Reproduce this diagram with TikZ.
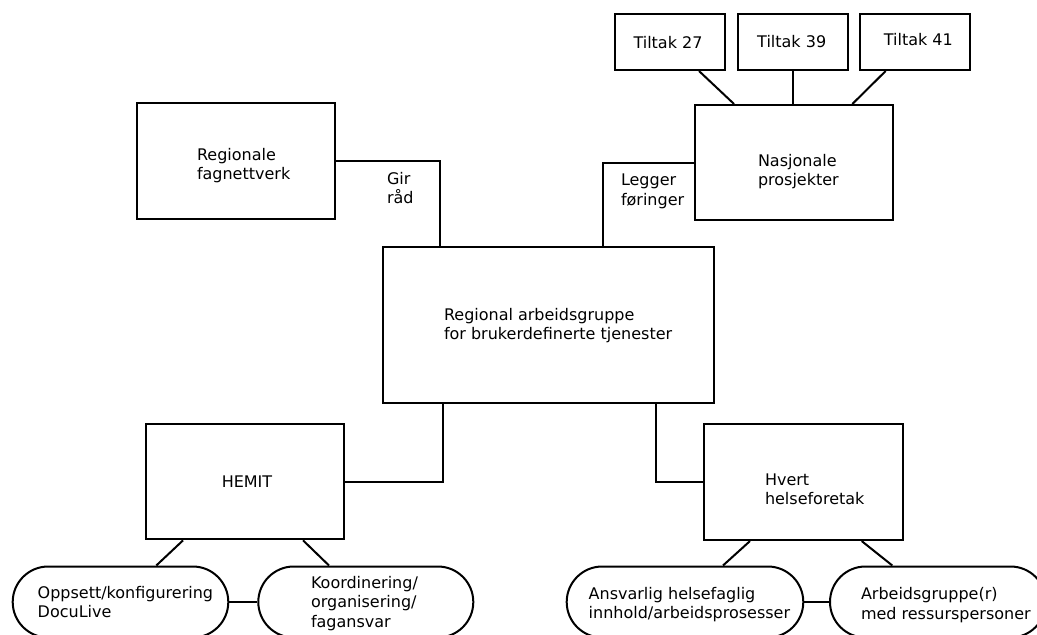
\documentclass[tikz,border=0pt]{standalone}
\usepackage{fontspec}
\setmainfont{DejaVu Sans}
\usetikzlibrary{calc}
\begin{document}
\begin{tikzpicture}[x=1pt,y=-1pt,
  line width=2pt, line join=miter,
  box/.style={draw, rectangle, inner sep=0pt},
  pill/.style={draw, rectangle, rounded corners=35.5pt, minimum height=71pt, inner sep=0pt},
  % multi-line labels: the base anchor sits on the last line
  lbl/.style={inner sep=0pt, anchor=base west, align=left, font=\fontsize{16}{19.5}\selectfont},
  clbl/.style={lbl, anchor=base},
]
\clip (0,0) rectangle (1037,635);
\fill[white] (0,0) rectangle (1037,635);

% --- boxes ---
\node[box, minimum width=110pt, minimum height=56pt] (t27) at (670,42) {};
\node[box, minimum width=110pt, minimum height=56pt] (t39) at (793,42) {};
\node[box, minimum width=110pt, minimum height=56pt] (t41) at (915,42) {};
\node[box, minimum width=198.3pt, minimum height=115pt] (nasj) at (794.2,162.5) {};
\node[box, minimum width=197.7pt, minimum height=115.7pt] (regfag) at (236.2,161.2) {};
\node[box, minimum width=331.6pt, minimum height=156pt] (rag) at (548.5,324.7) {};
\node[box, minimum width=198.3pt, minimum height=115.3pt] (hemit) at (245.2,481.7) {};
\node[box, minimum width=198.4pt, minimum height=115.7pt] (hf) at (803.5,482.2) {};

% --- rounded end nodes ---
\node[pill, minimum width=215.6pt] (opps) at (120.5,602) {};
\node[pill, minimum width=215pt] (koord) at (365.8,602) {};
\node[pill, minimum width=236.6pt] (ansv) at (685,602) {};
\node[pill, minimum width=216pt] (agr) at (938,602) {};

% --- texts ---
\node[clbl] (t27-t) at (668,48.5) {Tiltak 27};
\node[clbl] (t39-t) at (791.7,47.5) {Tiltak 39};
\node[clbl] (t41-t) at (918.3,45.5) {Tiltak 41};
\node[lbl] (nasj-t) at (757,185.5) {Nasjonale\\prosjekter};
\node[lbl] (regfag-t) at (196,179.5) {Regionale\\fagnettverk};
\node[lbl] (gir-t) at (386,203.5) {Gir\\råd};
\node[lbl] (legger-t) at (620,205) {Legger\\føringer};
\node[lbl] (rag-t) at (443,339.5) {Regional arbeidsgruppe\\for brukerdefinerte tjenester};
\node[clbl] (hemit-t) at (247,487) {HEMIT};
\node[lbl] (hf-t) at (764,504.5) {Hvert\\helseforetak};
\node[lbl] (opps-t) at (36.7,617.5) {Oppsett/konfigurering\\DocuLive};
\node[lbl] (koord-t) at (310,627.3) {Koordinering/\\organisering/\\fagansvar};
\node[lbl] (ansv-t) at (587.7,618.7) {Ansvarlig helsefaglig\\innhold/arbeidsprosesser};
\node[lbl] (agr-t) at (860,619) {Arbeidsgruppe(r)\\med ressurspersoner};

% --- connectors ---
\coordinate (gir) at ($(rag.north west)+(58.3,0)$);
\coordinate (legger) at ($(rag.north west)+(221.3,0)$);
\coordinate (toHemit) at ($(rag.south west)+(61.3,0)$);
\coordinate (toHf) at ($(rag.south west)+(274,0)$);
\draw (regfag.east) -| (gir);
\draw (nasj.west) -| (legger);
\draw (toHemit) |- (hemit.east);
\draw (toHf) |- (hf.west);

\draw ($(t27.south west)+(85,0)$) -- ($(nasj.north west)+(40,0)$);
\draw (t39.south) -- (t39.south |- nasj.north);
\draw ($(t41.south west)+(26.7,0)$) -- ($(nasj.north west)+(158.3,0)$);

\draw ($(hemit.south west)+(38,0)$) -- ($(opps.north west)+(144.6,0)$);
\draw ($(hemit.south west)+(158,0)$) -- ($(koord.north west)+(71.7,0)$);
\draw ($(hf.south west)+(46.7,0)$) -- ($(ansv.north west)+(157.3,0)$);
\draw ($(hf.south west)+(158.4,0)$) -- ($(agr.north west)+(63.3,0)$);

\draw (opps.east) -- (koord.west);
\draw (ansv.east) -- (agr.west);
\end{tikzpicture}
\end{document}
